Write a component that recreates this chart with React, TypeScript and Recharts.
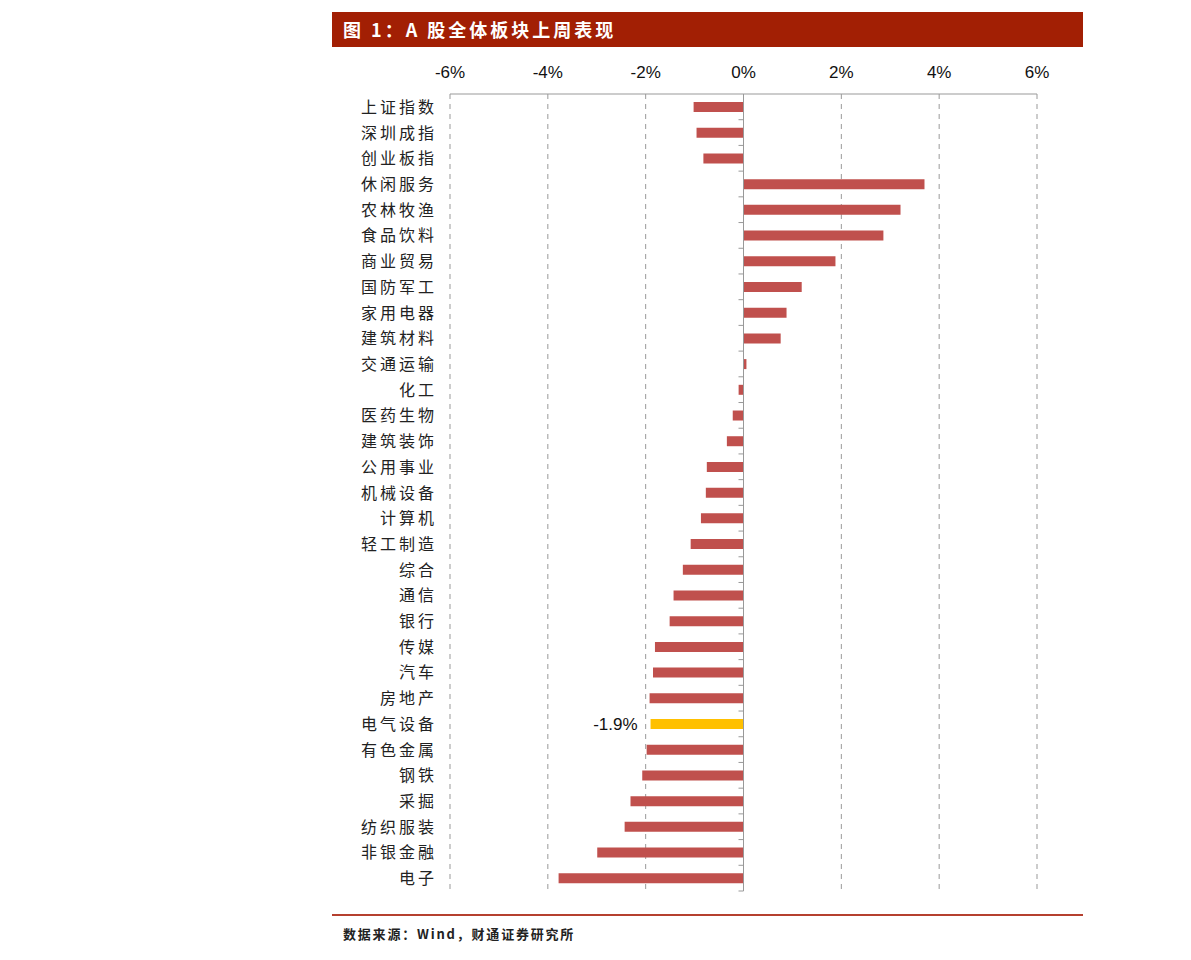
import React from 'react';
import { BarChart, Bar, XAxis, YAxis, CartesianGrid, ReferenceLine, Cell, LabelList } from 'recharts';

// 申万一级行业及主要指数 上周涨跌幅（%）
const categories = [
  '上证指数', '深圳成指', '创业板指', '休闲服务', '农林牧渔', '食品饮料', '商业贸易', '国防军工',
  '家用电器', '建筑材料', '交通运输', '化工', '医药生物', '建筑装饰', '公用事业', '机械设备',
  '计算机', '轻工制造', '综合', '通信', '银行', '传媒', '汽车', '房地产',
  '电气设备', '有色金属', '钢铁', '采掘', '纺织服装', '非银金融', '电子',
];
const changes = [
  -1.02, -0.96, -0.82, 3.7, 3.21, 2.86, 1.88, 1.19,
  0.88, 0.76, 0.06, -0.1, -0.22, -0.34, -0.75, -0.77,
  -0.87, -1.08, -1.24, -1.43, -1.51, -1.81, -1.85, -1.92,
  -1.9, -1.98, -2.07, -2.31, -2.43, -2.99, -3.78,
];
const xTicks = [-6, -4, -2, 0, 2, 4, 6];
const highlight = '电气设备';

const data = categories.map((name, i) => ({ name, value: changes[i] }));

const RED = '#C0504D';
const YELLOW = '#FFC000';
const TITLE_BG = '#A21F04';

const CHART_W = 751;
const CHART_H = 854;
const MARGIN = { top: 14, right: 46, bottom: 13, left: 0 };
const Y_W = 118;
const X_H = 30;
const PLOT_W = CHART_W - MARGIN.left - MARGIN.right - Y_W;
const PLOT_H = CHART_H - MARGIN.top - MARGIN.bottom - X_H;
const BAND = PLOT_H / categories.length;
const TICK_GAP = 16;

const CategoryTick = (props: any) => {
  const { x, y, payload, index } = props;
  const axisX = x + TICK_GAP;
  const zeroX = axisX + PLOT_W / 2;
  return (
    <g>
      <text
        x={x + 3}
        y={y}
        dy={6}
        textAnchor="end"
        fontSize={16}
        fill="#222"
        letterSpacing={3}
        fontFamily='"Noto Sans CJK SC", sans-serif'
      >
        {payload.value}
      </text>
      {index > 0 && (
        <line x1={zeroX - 5} x2={zeroX} y1={y - BAND / 2} y2={y - BAND / 2} stroke="#999" />
      )}
      {index === categories.length - 1 && (
        <line x1={zeroX - 5} x2={zeroX} y1={y + BAND / 2} y2={y + BAND / 2} stroke="#999" />
      )}
    </g>
  );
};

const HighlightLabel = (props: any) => {
  const { x, y, width, height, index } = props;
  if (categories[index] !== highlight) return null;
  const left = Math.min(x, x + width);
  return (
    <text
      x={left - 13}
      y={y + height / 2}
      dy={6}
      textAnchor="end"
      fontSize={17}
      fill="#111"
      fontFamily='"Liberation Sans", Arial, sans-serif'
    >
      {`${changes[index].toFixed(1)}%`}
    </text>
  );
};

export default function App() {
  return (
    <div style={{ position: 'absolute', left: 0, top: 0, width: 1191, height: 960, background: '#fff' }}>
      <div
        style={{
          position: 'absolute',
          left: 332,
          top: 12,
          width: 751,
          height: 35,
          background: TITLE_BG,
          color: '#fff',
          fontFamily: '"Noto Sans CJK SC", sans-serif',
          fontWeight: 700,
          fontSize: 18,
          lineHeight: '35px',
          paddingLeft: 11,
          boxSizing: 'border-box',
          letterSpacing: 3,
        }}
      >
        图 1：A 股全体板块上周表现
      </div>

      <div style={{ position: 'absolute', left: 332, top: 50 }}>
        <BarChart
          width={CHART_W}
          height={CHART_H}
          data={data}
          layout="vertical"
          margin={MARGIN}
          barSize={10}
        >
          <CartesianGrid horizontal={false} stroke="#999" strokeDasharray="5 5" />
          <XAxis
            type="number"
            orientation="top"
            domain={[-6, 6]}
            ticks={xTicks}
            height={X_H}
            tickFormatter={(v: number) => `${v}%`}
            axisLine={{ stroke: '#999' }}
            tickLine={false}
            tickSize={0}
            tickMargin={16}
            tick={{ fontSize: 17, fill: '#111', fontFamily: '"Liberation Sans", Arial, sans-serif' }}
          />
          <YAxis
            type="category"
            dataKey="name"
            width={Y_W}
            axisLine={false}
            tickLine={false}
            tickSize={0}
            tickMargin={TICK_GAP}
            interval={0}
            tick={<CategoryTick />}
          />
          <ReferenceLine x={0} stroke="#999" />
          <Bar dataKey="value" isAnimationActive={false}>
            {data.map((d) => (
              <Cell key={d.name} fill={d.name === highlight ? YELLOW : RED} />
            ))}
            <LabelList dataKey="value" content={<HighlightLabel />} />
          </Bar>
        </BarChart>
      </div>

      <div style={{ position: 'absolute', left: 332, top: 914, width: 751, height: 2, background: '#B5402F' }} />
      <div
        style={{
          position: 'absolute',
          left: 343,
          top: 924,
          fontFamily: '"Noto Sans CJK SC", sans-serif',
          fontWeight: 700,
          fontSize: 13,
          color: '#222',
          letterSpacing: 1.8,
        }}
      >
        数据来源：Wind，财通证券研究所
      </div>
    </div>
  );
}
